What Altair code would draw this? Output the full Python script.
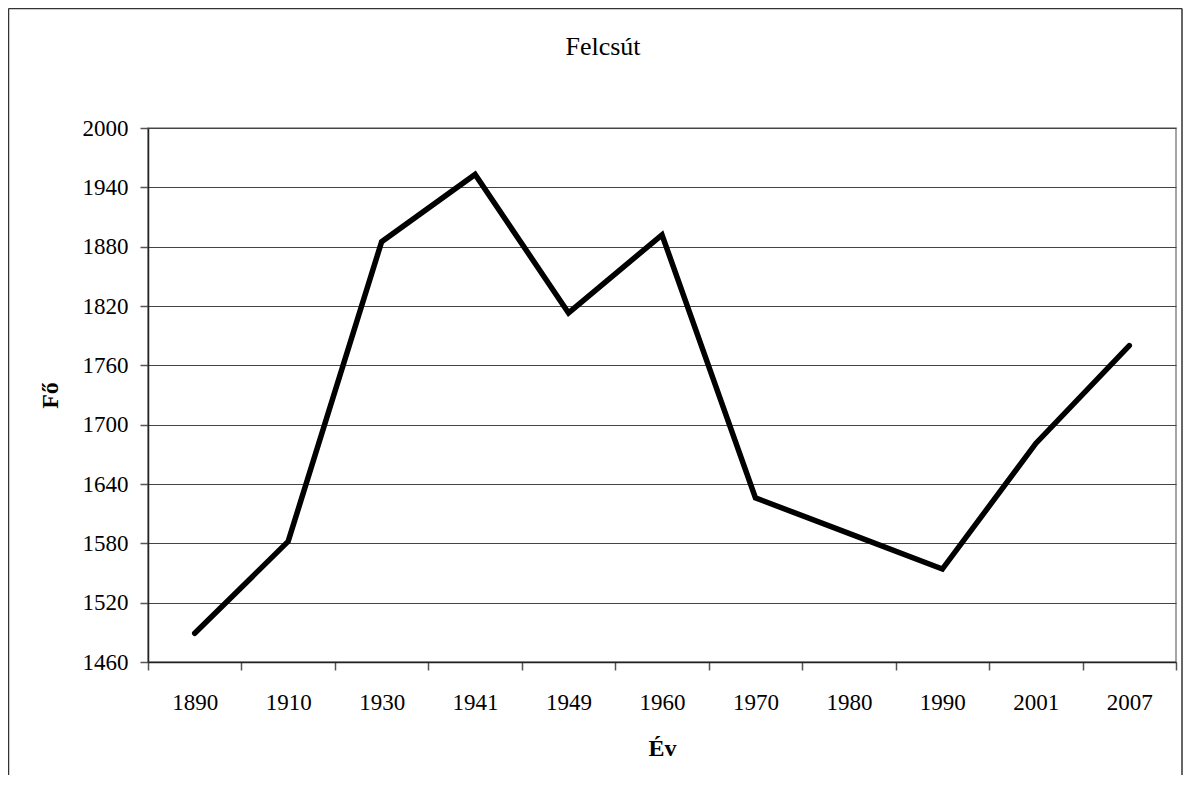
import altair as alt
import pandas as pd

years = ["1890", "1910", "1930", "1941", "1949", "1960", "1970", "1980", "1990", "2001", "2007"]
population = [1489, 1582, 1885, 1953, 1813, 1892, 1626, 1590, 1554, 1681, 1780]
y_ticks = list(range(1460, 2001, 60))
chart_title = ["Felcsút"]

df = pd.DataFrame({"Év": years, "Fő": population})

FONT = "Liberation Serif"
W, H = 1028, 534

line = alt.Chart(df).mark_line(
    color="black", strokeWidth=5.5, strokeCap="round", strokeJoin="miter"
).encode(
    x=alt.X("Év:N", sort=years, bandPosition=0.5,
            scale=alt.Scale(type="band", paddingInner=0, paddingOuter=0),
            axis=alt.Axis(title="Év", grid=False, labelAngle=0, tickBand="extent",
                          titleX=W / 2, titleY=86, titleBaseline="middle",
                          titleAlign="center", labelPadding=21)),
    y=alt.Y("Fő:Q", scale=alt.Scale(domain=[1460, 2000], nice=False, zero=False),
            axis=alt.Axis(title="Fő", values=y_ticks, grid=True, labelPadding=12,
                          format="d",
                          titleX=-98, titleY=H / 2, titleBaseline="middle",
                          titleAlign="center", titleAngle=-90)),
)

title_df = pd.DataFrame({"t": chart_title})
title = alt.Chart(title_df).mark_text(
    font=FONT, fontSize=26, color="black", align="center", baseline="middle"
).encode(text="t:N", x=alt.value(455), y=alt.value(-81))

frame_df = pd.DataFrame({"a": [0]})
left = alt.Chart(frame_df).mark_rule(color="#333333", strokeWidth=1.5).encode(
    x=alt.value(-139.5), y=alt.value(-119.5), y2=alt.value(900))
top = alt.Chart(frame_df).mark_rule(color="#333333", strokeWidth=1.5).encode(
    x=alt.value(-139.5), x2=alt.value(1034), y=alt.value(-119.5))
right = alt.Chart(frame_df).mark_rule(color="#333333", strokeWidth=1.5).encode(
    x=alt.value(1034), y=alt.value(-119.5), y2=alt.value(900))

chart = alt.layer(line, title, left, top, right).properties(
    width=W, height=H,
    background="white",
    autosize=alt.AutoSizeParams(type="none"),
    padding={"left": 140, "top": 120, "right": 7, "bottom": 113},
).configure_view(
    stroke="#888888", strokeWidth=1.5
).configure_axis(
    labelFont=FONT, labelFontSize=23, labelColor="black",
    titleFont=FONT, titleFontSize=24, titleFontWeight="bold", titleColor="black",
    domainColor="#222222", domainWidth=1.5,
    tickColor="#555555", tickSize=8, tickWidth=1.5,
    gridColor="#444444", gridWidth=1,
)

chart.save("out.html", embed_options={"renderer": "svg", "actions": False})
